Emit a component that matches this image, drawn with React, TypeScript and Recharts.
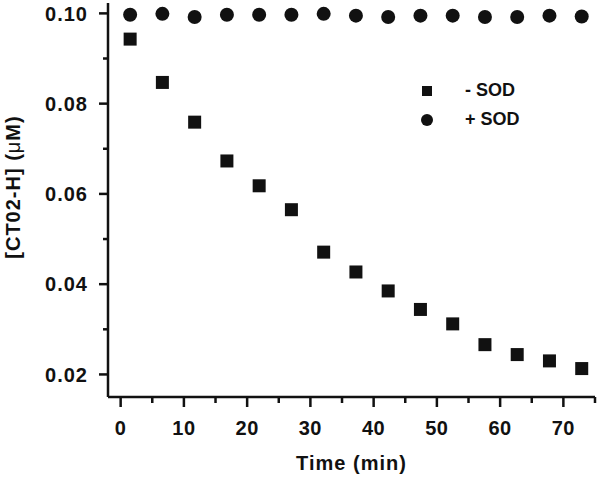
import React from 'react';
import { ScatterChart, Scatter, XAxis, YAxis } from 'recharts';

// Sampling times (min), shared by both series
const TIME = [1.5, 6.6, 11.7, 16.8, 21.9, 27.0, 32.1, 37.2, 42.3, 47.4, 52.5, 57.6, 62.7, 67.8, 72.9];

// [CT02-H] (uM) without and with SOD
const MINUS_SOD = [0.0943, 0.0847, 0.0759, 0.0673, 0.0618, 0.0565, 0.0471, 0.0427, 0.0385, 0.0344, 0.0312, 0.0266, 0.0244, 0.0230, 0.0213];
const PLUS_SOD = [0.0997, 0.0999, 0.0992, 0.0997, 0.0997, 0.0997, 0.0999, 0.0995, 0.0992, 0.0995, 0.0995, 0.0992, 0.0992, 0.0995, 0.0993];

const SERIES_NAMES = ['- SOD', '+ SOD'];

// Axis ticks
const X_MAJOR = [0, 10, 20, 30, 40, 50, 60, 70];
const X_MINOR = [5, 15, 25, 35, 45, 55, 65, 75];
const Y_MAJOR = [0.02, 0.04, 0.06, 0.08, 0.10];
const Y_MINOR = [0.03, 0.05, 0.07, 0.09];

const INK = '#111';
const FONT = '"Liberation Sans", Arial, sans-serif';

const minusData = TIME.map((t, i) => ({ t, v: MINUS_SOD[i] }));
const plusData = TIME.map((t, i) => ({ t, v: PLUS_SOD[i] }));

const xTicks = [...X_MAJOR, ...X_MINOR].sort((a, b) => a - b);
const yTicks = [...Y_MAJOR, ...Y_MINOR].sort((a, b) => a - b);

const isMajor = (list: number[], v: number) => list.some(m => Math.abs(m - v) < 1e-9);

const XTick = ({ x, y, payload }: any) => {
  const major = isMajor(X_MAJOR, payload.value);
  return (
    <g>
      <line x1={x} x2={x} y1={y} y2={y + (major ? 10 : 6)} stroke={INK} strokeWidth={2.5} />
      {major && (
        <text x={x} y={y + 38} textAnchor="middle" fill={INK} fontSize={20} fontWeight="bold"
          fontFamily={FONT} letterSpacing={0.5}>
          {payload.value}
        </text>
      )}
    </g>
  );
};

const YTick = ({ x, y, payload }: any) => {
  const major = isMajor(Y_MAJOR, payload.value);
  return (
    <g>
      <line x1={x - (major ? 9 : 5)} x2={x} y1={y} y2={y} stroke={INK} strokeWidth={2.5} />
      {major && (
        <text x={x - 20} y={y} dy="0.36em" textAnchor="end" fill={INK} fontSize={20} fontWeight="bold"
          fontFamily={FONT} letterSpacing={1}>
          {payload.value.toFixed(2)}
        </text>
      )}
    </g>
  );
};

const Square = (p: any) => <rect x={p.cx - 6.5} y={p.cy - 6.5} width={13} height={13} fill={INK} />;
const Dot = (p: any) => <circle cx={p.cx} cy={p.cy} r={7} fill={INK} />;

// legend drawn as an overlay so the chart keeps its full plot height
const ChartLegend = () => (
  <div style={{
    position: 'absolute', left: 418, top: 76, fontFamily: FONT, fontWeight: 'bold', fontSize: 18, color: INK,
  }}>
    {SERIES_NAMES.map((name, i) => (
      <div key={name} style={{ display: 'flex', alignItems: 'center', height: 29 }}>
        <svg width={18} height={18}>
          {i === 0
            ? <rect x={4} y={4} width={10} height={10} fill={INK} />
            : <circle cx={9} cy={9} r={6} fill={INK} />}
        </svg>
        <span style={{ marginLeft: 29 }}>{name}</span>
      </div>
    ))}
  </div>
);

export default function App() {
  return (
    <div style={{ position: 'absolute', left: 0, top: 0, width: 600, height: 479, background: '#fff' }}>
      <ScatterChart width={600} height={479} margin={{ top: 3, right: 5, bottom: 0, left: 0 }}>
        <XAxis
          type="number"
          dataKey="t"
          domain={[-2, 75]}
          allowDataOverflow
          ticks={xTicks}
          interval={0}
          height={82}
          tickSize={0}
          tickMargin={0}
          tickLine={false}
          tick={XTick}
          axisLine={{ stroke: INK, strokeWidth: 2.5 }}
          label={({ viewBox }: any) => (
            <text x={viewBox.x + viewBox.width / 2} y={viewBox.y + 73} textAnchor="middle" fill={INK}
              fontSize={20} fontWeight="bold" fontFamily={FONT} letterSpacing={1}>
              Time (min)
            </text>
          )}
        />
        <YAxis
          type="number"
          dataKey="v"
          domain={[0.015, 0.1023]}
          allowDataOverflow
          ticks={yTicks}
          interval={0}
          width={108}
          tickSize={0}
          tickMargin={0}
          tickLine={false}
          tick={YTick}
          axisLine={{ stroke: INK, strokeWidth: 2.5 }}
          label={({ viewBox }: any) => {
            const cx = viewBox.x + 13;
            const cy = viewBox.y + 184;
            return (
              <text x={cx} y={cy} dy="0.36em" textAnchor="middle" transform={`rotate(-90 ${cx} ${cy})`}
                fill={INK} fontSize={20} fontWeight="bold" fontFamily={FONT} letterSpacing={1}>
                [CT02-H] (<tspan fontWeight="normal">μ</tspan>M)
              </text>
            );
          }}
        />
        <Scatter name={SERIES_NAMES[0]} data={minusData} shape={Square} isAnimationActive={false} />
        <Scatter name={SERIES_NAMES[1]} data={plusData} shape={Dot} isAnimationActive={false} />
      </ScatterChart>
      <ChartLegend />
    </div>
  );
}
